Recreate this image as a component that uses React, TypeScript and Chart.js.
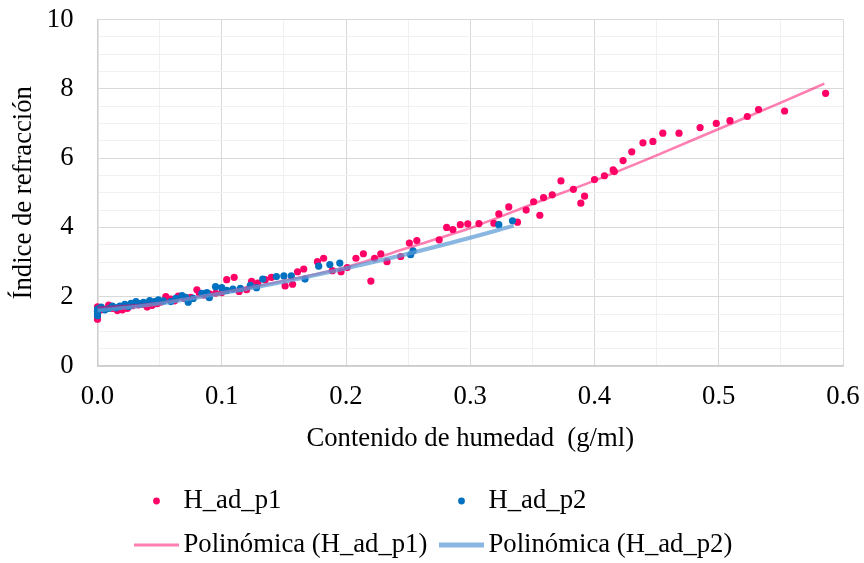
import React, { useEffect, useRef } from 'react';
import { Chart, registerables } from 'chart.js';

Chart.register(...registerables);

// ---- Data ----
const p1X = [
  0.000, 0.000, 0.000, 0.003, 0.009, 0.012, 0.016, 0.020, 0.024, 0.028, 0.033, 0.037, 0.040, 0.044,
  0.048, 0.051, 0.055, 0.059, 0.062, 0.065, 0.070, 0.075, 0.080, 0.082, 0.086, 0.090, 0.095, 0.100,
  0.104, 0.110, 0.114, 0.120, 0.124, 0.129, 0.135, 0.140, 0.151, 0.157, 0.161, 0.166, 0.177, 0.182,
  0.189, 0.196, 0.201, 0.208, 0.214, 0.220, 0.223, 0.228, 0.233, 0.244, 0.251, 0.257, 0.275, 0.281,
  0.286, 0.292, 0.298, 0.307, 0.319, 0.323, 0.331, 0.338, 0.345, 0.351, 0.356, 0.359, 0.366, 0.373,
  0.383, 0.389, 0.392, 0.400, 0.408, 0.415, 0.416, 0.423, 0.430, 0.439, 0.447, 0.455, 0.468, 0.485,
  0.498, 0.509, 0.523, 0.532, 0.553, 0.586,
];
const p1Y = [
  1.35, 1.42, 1.71, 1.62, 1.76, 1.66, 1.60, 1.62, 1.66, 1.74, 1.76, 1.78, 1.70, 1.75,
  1.80, 1.85, 2.00, 1.93, 1.88, 2.02, 1.95, 1.98, 2.20, 2.10, 2.05, 2.08, 2.10, 2.12,
  2.49, 2.56, 2.15, 2.20, 2.44, 2.39, 2.49, 2.56, 2.31, 2.36, 2.72, 2.80, 3.01, 3.11,
  2.75, 2.72, 2.84, 3.11, 3.24, 2.45, 3.11, 3.24, 3.01, 3.16, 3.55, 3.62, 3.64, 4.00,
  3.94, 4.08, 4.10, 4.11, 4.12, 4.39, 4.59, 4.15, 4.50, 4.74, 4.35, 4.86, 4.94, 5.34,
  5.10, 4.70, 4.90, 5.38, 5.49, 5.66, 5.61, 5.93, 6.18, 6.44, 6.48, 6.72, 6.72, 6.88,
  7.00, 7.08, 7.20, 7.40, 7.36, 7.87,
];

const p2X = [
  0.000, 0.000, 0.000, 0.000, 0.003, 0.006, 0.009, 0.012, 0.015, 0.018, 0.022, 0.025, 0.027, 0.031,
  0.034, 0.037, 0.042, 0.046, 0.049, 0.053, 0.059, 0.063, 0.068, 0.071, 0.073, 0.077, 0.084, 0.088,
  0.090, 0.095, 0.100, 0.104, 0.109, 0.115, 0.123, 0.128, 0.133, 0.144, 0.150, 0.156, 0.167, 0.178,
  0.187, 0.195, 0.252, 0.254, 0.323, 0.334,
];
const p2Y = [
  1.45, 1.52, 1.58, 1.64, 1.70, 1.62, 1.66, 1.73, 1.68, 1.73, 1.78, 1.72, 1.81, 1.86,
  1.80, 1.84, 1.89, 1.86, 1.91, 1.88, 1.86, 1.95, 2.03, 1.98, 1.84, 1.95, 2.10, 2.12,
  1.97, 2.29, 2.26, 2.18, 2.22, 2.24, 2.33, 2.26, 2.51, 2.58, 2.60, 2.60, 2.51, 2.88,
  2.93, 2.97, 3.21, 3.32, 4.08, 4.19,
];

// Polynomial trendlines
const trend1X = [0, 0.05, 0.1, 0.15, 0.2, 0.25, 0.3, 0.35, 0.4, 0.45, 0.5, 0.55, 0.585];
const trend1Y = [1.68, 1.82, 2.12, 2.46, 2.86, 3.41, 3.98, 4.67, 5.35, 6.08, 6.84, 7.60, 8.15];
const trend2X = [0, 0.05, 0.1, 0.15, 0.2, 0.25, 0.3, 0.335];
const trend2Y = [1.60, 1.80, 2.10, 2.43, 2.82, 3.24, 3.70, 4.05];

const seriesLabels = ['H_ad_p1', 'H_ad_p2', 'Polinómica (H_ad_p1)', 'Polinómica (H_ad_p2)'];
const xTitle = 'Contenido de humedad  (g/ml)';
const yTitle = 'Índice de refracción';

const FONT = '"Liberation Serif", "Times New Roman", serif';
const FSIZE = 26.7;

const toPts = (xs: number[], ys: number[]) => xs.map((x, i) => ({ x, y: ys[i] }));

const isMult = (v: number, step: number) => Math.abs(v / step - Math.round(v / step)) < 1e-6;

const zeroPad = (s: any) => {
  s.paddingTop = 0;
  s.paddingBottom = 0;
  s.paddingLeft = 0;
  s.paddingRight = 0;
};

const gridLegend = {
  id: 'gridLegend',
  afterDraw(chart: any) {
    const ctx = chart.ctx as CanvasRenderingContext2D;
    const ds = chart.data.datasets;
    const cols = [134, 439];
    const rows = [501, 545];
    const markerW = 45;
    ctx.save();
    ctx.font = `${FSIZE}px ${FONT}`;
    ctx.textBaseline = 'middle';
    ctx.textAlign = 'left';
    ds.forEach((d: any, i: number) => {
      const cx = cols[i % 2];
      const cy = rows[Math.floor(i / 2)];
      if (d.showLine) {
        ctx.strokeStyle = d.borderColor;
        ctx.lineWidth = d.legendLineWidth || d.borderWidth;
        ctx.beginPath();
        ctx.moveTo(cx, cy);
        ctx.lineTo(cx + markerW, cy);
        ctx.stroke();
      } else {
        ctx.fillStyle = d.backgroundColor;
        ctx.beginPath();
        ctx.arc(cx + markerW / 2, cy, 3.4, 0, Math.PI * 2);
        ctx.fill();
      }
      ctx.fillStyle = '#000';
      ctx.fillText(d.label, cx + 49.5, cy);
    });
    ctx.restore();
  },
};

export default function App() {
  const ref = useRef<HTMLCanvasElement | null>(null);

  useEffect(() => {
    if (!ref.current) return;
    const chart = new Chart(ref.current, {
      type: 'scatter',
      data: {
        datasets: [
          {
            label: seriesLabels[0],
            data: toPts(p1X, p1Y),
            backgroundColor: '#FF0066',
            borderWidth: 0,
            pointRadius: 3.6,
            order: 4,
            clip: false,
          } as any,
          {
            label: seriesLabels[1],
            data: toPts(p2X, p2Y),
            backgroundColor: '#0070C0',
            borderWidth: 0,
            pointRadius: 3.6,
            order: 3,
            clip: false,
          } as any,
          {
            label: seriesLabels[2],
            data: toPts(trend1X, trend1Y),
            showLine: true,
            borderColor: 'rgba(255,0,102,0.5)',
            backgroundColor: 'rgba(255,0,102,0.5)',
            borderWidth: 2.6,
            legendLineWidth: 3,
            pointRadius: 0,
            cubicInterpolationMode: 'monotone',
            order: 2,
            clip: false,
          } as any,
          {
            label: seriesLabels[3],
            data: toPts(trend2X, trend2Y),
            showLine: true,
            borderColor: 'rgba(91,155,213,0.72)',
            backgroundColor: 'rgba(91,155,213,0.72)',
            borderWidth: 4,
            legendLineWidth: 5,
            pointRadius: 0,
            cubicInterpolationMode: 'monotone',
            order: 1,
            clip: false,
          } as any,
        ],
      },
      options: {
        responsive: false,
        animation: false,
        devicePixelRatio: 1,
        layout: { padding: { top: 19.5, right: 21, bottom: 102, left: 0 } },
        plugins: {
          legend: { display: false },
          tooltip: { enabled: false },
        },
        scales: {
          x: {
            type: 'linear',
            min: 0,
            max: 0.6,
            afterFit: (s: any) => { s.height = 95; zeroPad(s); },
            ticks: {
              stepSize: 0.05,
              autoSkip: false,
              maxRotation: 0,
              padding: 15,
              color: '#000',
              font: { family: FONT, size: FSIZE },
              callback: (v: any) => (isMult(Number(v), 0.1) ? Number(v).toFixed(1) : ''),
            },
            grid: {
              drawTicks: false,
              color: (c: any) => (c.tick && isMult(c.tick.value, 0.1) ? '#d9d9d9' : '#f0f0f0'),
              lineWidth: 1,
            },
            border: { display: true, color: '#cccccc', width: 1.5 },
            title: {
              display: true,
              text: xTitle,
              color: '#000',
              font: { family: FONT, size: FSIZE },
              padding: { top: 0, bottom: 5.5 },
            },
          },
          y: {
            type: 'linear',
            min: 0,
            max: 10,
            afterFit: (s: any) => { s.width = 97.5; zeroPad(s); },
            ticks: {
              stepSize: 0.5,
              autoSkip: false,
              padding: 24,
              color: '#000',
              font: { family: FONT, size: FSIZE },
              callback: (v: any) => (isMult(Number(v), 2) ? String(Math.round(Number(v))) : ''),
            },
            grid: {
              drawTicks: false,
              color: (c: any) => (c.tick && isMult(c.tick.value, 2) ? '#d9d9d9' : '#f0f0f0'),
              lineWidth: 1,
            },
            border: { display: true, color: '#cccccc', width: 1.5 },
            title: {
              display: true,
              text: yTitle,
              color: '#000',
              font: { family: FONT, size: FSIZE },
              padding: { top: 8, bottom: 0 },
            },
          },
        },
      },
      plugins: [gridLegend],
    });
    return () => chart.destroy();
  }, []);

  return (
    <div style={{ position: 'fixed', left: 0, top: 0, width: 864, height: 563, background: '#fff' }}>
      <canvas ref={ref} width={864} height={563} style={{ width: 864, height: 563, display: 'block' }} />
    </div>
  );
}
